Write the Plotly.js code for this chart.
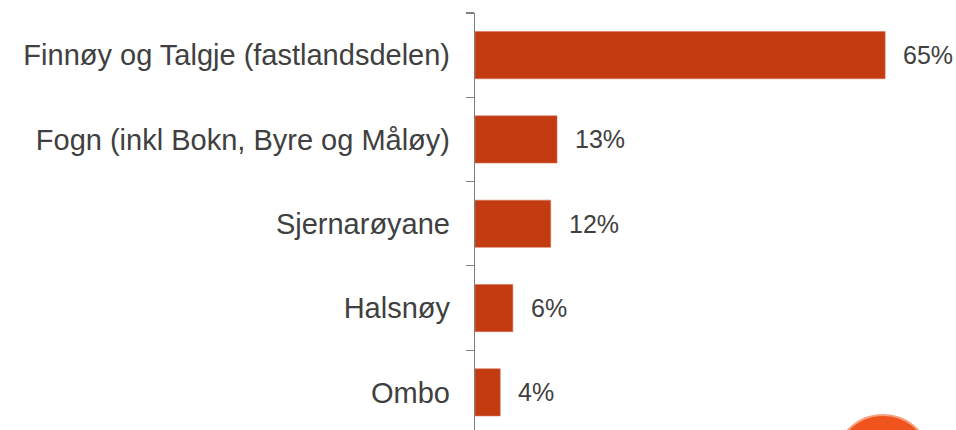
<!DOCTYPE html>
<html>
<head>
<meta charset="utf-8">
<script src="https://cdn.plot.ly/plotly-3.0.1.min.js"></script>
<style>html,body{margin:0;padding:0;background:#fff;}#chart{width:956px;height:430px;}</style>
</head>
<body>
<div id="chart"></div>
<script>
const categories = ["Finnøy og Talgje (fastlandsdelen)", "Fogn (inkl Bokn, Byre og Måløy)", "Sjernarøyane", "Halsnøy", "Ombo"];
const values = [65, 13, 12, 6, 4];
const valueLabels = ["65%", "13%", "12%", "6%", "4%"];

const W = 956, H = 430;
const mL = 475, mT = 13;
const pxPerPct = 6.31;
const plotW = W - mL;
const plotH = H - mT;
const catPx = 84.3;

const trace = {
  type: "bar",
  orientation: "h",
  y: categories,
  x: values,
  marker: { color: "#C23B11", line: { color: "#D9745A", width: 0.6 } },
  width: 0.56,
  hoverinfo: "skip"
};

const annotations = categories.map((c, i) => ({
  x: values[i], y: c, xref: "x", yref: "y",
  text: valueLabels[i], showarrow: false,
  xanchor: "left", yanchor: "middle", xshift: 16,
  font: { family: "Liberation Sans, Arial, sans-serif", size: 25, color: "#404040" }
}));

const layout = {
  width: W, height: H,
  margin: { l: mL, r: 0, t: mT, b: 0, pad: 0 },
  paper_bgcolor: "#fff", plot_bgcolor: "#fff",
  showlegend: false,
  xaxis: { range: [0, plotW / pxPerPct], visible: false, fixedrange: true },
  yaxis: {
    type: "category",
    range: [-0.5 + plotH / catPx, -0.5],
    automargin: false,
    showline: true, linecolor: "#7f7f7f", linewidth: 1.2,
    ticks: "outside", tickson: "boundaries", ticklen: 8, tickcolor: "#7f7f7f", tickwidth: 1.2,
    ticklabelstandoff: 18,
    showgrid: false, zeroline: false,
    tickfont: { family: "Liberation Sans, Arial, sans-serif", size: 29, color: "#404040" }
  },
  annotations: annotations,
  shapes: [{
    type: "circle", xref: "paper", yref: "paper",
    x0: (835 - mL) / plotW, x1: (931 - mL) / plotW,
    y0: (H - 511) / plotH, y1: (H - 415) / plotH,
    fillcolor: "#F0541E", line: { color: "#F7A27F", width: 2 }
  }]
};

Plotly.newPlot("chart", [trace], layout, { displayModeBar: false, staticPlot: true });
</script>
</body>
</html>
